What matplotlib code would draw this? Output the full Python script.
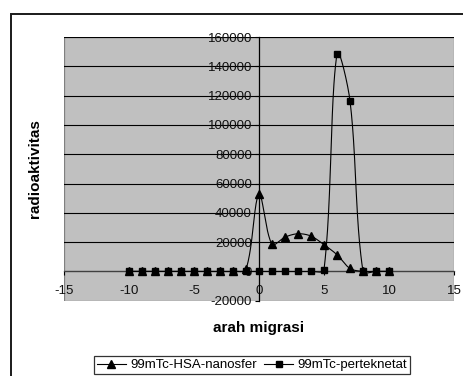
import numpy as np
import matplotlib
matplotlib.use("Agg")
import matplotlib.pyplot as plt
from matplotlib.patches import Rectangle

plt.rcParams['font.family'] = ['Liberation Sans', 'DejaVu Sans']

# posisi migrasi (cm) dan radioaktivitas (cacahan)
posisi = [-10, -9, -8, -7, -6, -5, -4, -3, -2, -1, 0, 1, 2, 3, 4, 5, 6, 7, 8, 9, 10]
hsa_nanosfer = [0, 0, 0, 0, 0, 0, 0, 0, 0, 1500, 52500, 18500, 23400, 25700, 24100,
                18200, 11400, 2000, 0, 0, 0]
perteknetat = [0, 0, 0, 0, 0, 0, 0, 0, 0, 0, 0, 0, 0, 0, 0,
               1100, 148500, 116500, 0, 0, 0]

x_ticks = [-15, -10, -5, 0, 5, 10, 15]
y_ticks = [-20000, 0, 20000, 40000, 60000, 80000, 100000, 120000, 140000, 160000]

W, H = 463, 376
AX_W, AX_H = 390, 263.7


def smooth(xs, ys, n=40):
    # kurva halus: Bezier kubik, titik kontrol sebanding panjang segmen (dalam piksel)
    sx = AX_W / 30.0
    sy = AX_H / 180000.0
    p = np.column_stack([np.asarray(xs, float) * sx, np.asarray(ys, float) * sy])
    p = np.vstack([p[0], p, p[-1]])
    out = []
    for i in range(1, len(p) - 2):
        p0, p1, p2, p3 = p[i - 1], p[i], p[i + 1], p[i + 2]
        d01 = np.hypot(*(p1 - p0))
        d12 = np.hypot(*(p2 - p1))
        d23 = np.hypot(*(p3 - p2))
        f1 = d12 / (d01 + d12) / 3.0 if d01 + d12 > 0 else 0
        f2 = d12 / (d12 + d23) / 3.0 if d12 + d23 > 0 else 0
        c1 = p1 + (p2 - p0) * f1
        c2 = p2 - (p3 - p1) * f2
        t = np.linspace(0, 1, n)[:, None]
        seg = ((1 - t) ** 3) * p1 + 3 * ((1 - t) ** 2) * t * c1 + 3 * (1 - t) * t ** 2 * c2 + t ** 3 * p2
        out.append(seg if i == 1 else seg[1:])
    out = np.vstack(out)
    return out[:, 0] / sx, out[:, 1] / sy


fig = plt.figure(figsize=(W / 100, H / 100), dpi=100)

# bingkai luar area grafik
fig.patches.append(Rectangle((10.5 / W, -0.1), 1.2, (H - 14) / H + 0.1, transform=fig.transFigure,
                             fill=False, edgecolor='#1a1a1a', linewidth=1.4))

ax = fig.add_axes([64 / W, 1 - 300.7 / H, AX_W / W, AX_H / H])
ax.set_facecolor('#c0c0c0')
ax.set_xlim(-15, 15)
ax.set_ylim(-20000, 160000)

for v in y_ticks[1:]:
    ax.axhline(v, color='black', linewidth=0.8, zorder=1)

for s in ['top', 'right']:
    ax.spines[s].set_visible(False)
ax.spines['left'].set_position(('data', 0))
ax.spines['bottom'].set_position(('data', 0))
ax.spines['left'].set_linewidth(0.9)
ax.spines['bottom'].set_linewidth(0.9)
ax.spines['bottom'].set_color('#404040')
ax.add_patch(Rectangle((0, 0), 1, 1, transform=ax.transAxes, fill=False,
                       edgecolor='#808080', linewidth=0.9, zorder=0.5))

ax.set_xticks(x_ticks)
ax.set_yticks(y_ticks)
ax.set_xticklabels([str(v) for v in x_ticks])
ax.set_yticklabels([str(v) for v in y_ticks])
ax.tick_params(axis='both', direction='out', length=3, width=0.8, labelsize=9.5,
               labelcolor='#111111', pad=2)
ax.tick_params(axis='x', pad=7)

sx, sy = smooth(posisi, hsa_nanosfer)
ax.plot(sx, sy, color='black', linewidth=0.8, zorder=3)
ax.plot(posisi, hsa_nanosfer, linestyle='none', marker='^', markersize=5.5,
        color='black', zorder=4)
sx, sy = smooth(posisi, perteknetat)
ax.plot(sx, sy, color='black', linewidth=0.8, zorder=5)
ax.plot(posisi, perteknetat, linestyle='none', marker='s', markersize=4.8,
        color='black', zorder=6)

# entri legenda
h1, = ax.plot([], [], color='black', linewidth=0.8, marker='^', markersize=5.5,
              label='99mTc-HSA-nanosfer')
h2, = ax.plot([], [], color='black', linewidth=0.8, marker='s', markersize=4.8,
              label='99mTc-perteknetat')
leg = fig.legend(handles=[h1, h2], loc='center', bbox_to_anchor=(252 / W, 1 - 365 / H),
                 ncol=2, fontsize=9.5, frameon=True, fancybox=False, edgecolor='black',
                 handlelength=2.2, handletextpad=0.3, columnspacing=0.6,
                 borderpad=0.25, borderaxespad=0)
leg.get_frame().set_linewidth(0.9)

fig.text(259 / W, 1 - 328 / H, 'arah migrasi', ha='center', va='center',
         fontsize=11, fontweight='bold')
fig.text(35 / W, 1 - 169 / H, 'radioaktivitas', ha='center', va='center',
         rotation=90, fontsize=11, fontweight='bold')

fig.savefig('out.png', dpi=100, facecolor='white')
